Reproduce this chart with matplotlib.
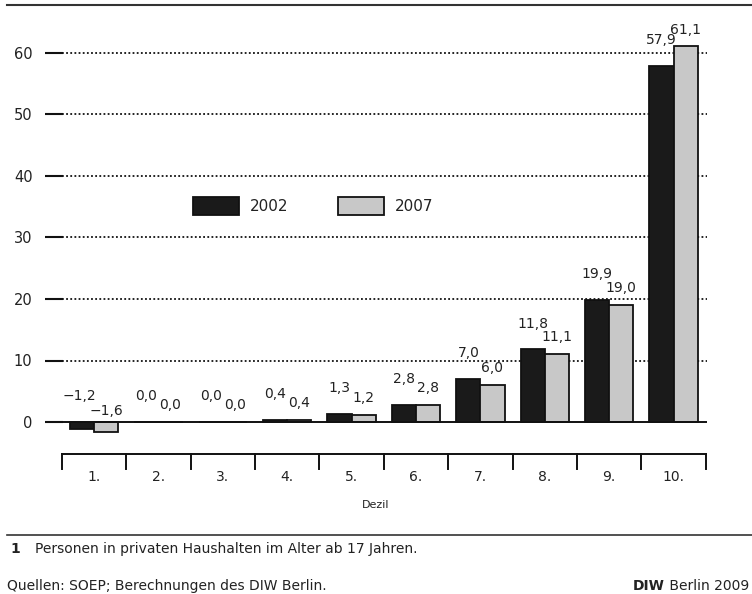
import matplotlib
matplotlib.use("Agg")
import matplotlib.pyplot as plt
from matplotlib.lines import Line2D
import numpy as np

plt.rcParams['font.family'] = ['DejaVu Sans']

categories = ["1.", "2.", "3.", "4.", "5.", "6.", "7.", "8.", "9.", "10."]
series_names = ["2002", "2007"]
values_2002 = [-1.2, 0.0, 0.0, 0.4, 1.3, 2.8, 7.0, 11.8, 19.9, 57.9]
values_2007 = [-1.6, 0.0, 0.0, 0.4, 1.2, 2.8, 6.0, 11.1, 19.0, 61.1]
yticks = [0, 10, 20, 30, 40, 50, 60]
x_label = "Dezil"
footnote_num = "1"
footnote = "Personen in privaten Haushalten im Alter ab 17 Jahren."
source = "Quellen: SOEP; Berechnungen des DIW Berlin."
credit_bold = "DIW"
credit_rest = " Berlin 2009"

W, H = 752, 594
fig = plt.figure(figsize=(W / 100, H / 100), dpi=100)

def fx(px):
    return px / W

def fy(py):
    return 1 - py / H

ax_left, ax_right, ax_top, ax_bot = 45, 707, 15, 480
ax = fig.add_axes([fx(ax_left), fy(ax_bot), (ax_right - ax_left) / W, (ax_bot - ax_top) / H])

px_per_unit = 369 / 60.0
zero_px = 422
ax.set_ylim(-(ax_bot - zero_px) / px_per_unit, (zero_px - ax_top) / px_per_unit)
cat_w = 64.4
c0 = 94
ax.set_xlim((ax_left - c0) / cat_w, (ax_right - c0) / cat_w)

for s in ax.spines.values():
    s.set_visible(False)

x = np.arange(len(categories))
bw = 0.375
text_col = "#222222"

# dotted grid
for yv in yticks[1:]:
    ax.hlines(yv, -0.5, ax.get_xlim()[1], colors="#111111", linestyles=(0, (1, 1.3)),
              linewidth=1.3, zorder=1)
ax.axhline(0, color="#111111", linewidth=1.4, zorder=3)

ax.bar(x - bw / 2, values_2002, bw, color="#1a1a1a", edgecolor="#111111", linewidth=1.3,
       label=series_names[0], zorder=2)
ax.bar(x + bw / 2, values_2007, bw, color="#c8c8c8", edgecolor="#111111", linewidth=1.3,
       label=series_names[1], zorder=2)

def fmt(v):
    s = f"{v:.1f}".replace(".", ",")
    return s.replace("-", "\u2212")

for i in range(len(categories)):
    v1, v2 = values_2002[i], values_2007[i]
    ax.annotate(fmt(v1), (x[i] - bw / 2, max(v1, 0)), xytext=(-2 if v1 < 0 else 0, 18.5),
                textcoords="offset points",
                ha="center", va="center", fontsize=10, color=text_col, zorder=5)
    ax.annotate(fmt(v2), (x[i] + bw / 2, max(v2, 0)), xytext=(0, 8 if v2 < 0 else 12),
                textcoords="offset points",
                ha="center", va="center", fontsize=10, color=text_col, zorder=5)

ax.set_yticks(yticks)
ax.set_yticklabels([str(t) for t in yticks], fontsize=10.5, color=text_col)
ax.tick_params(axis="y", direction="in", length=12.75, width=1.5, pad=9, color="#111111")
ax.set_xticks([])

# category axis below
ycat = -(454 - zero_px) / px_per_unit
ytick_end = -(469 - zero_px) / px_per_unit
ylab = -(477 - zero_px) / px_per_unit
ax.plot([-0.5, len(categories) - 0.5], [ycat, ycat], color="#111111", linewidth=1.4,
        clip_on=False, zorder=3)
for b in np.arange(len(categories) + 1) - 0.5:
    ax.plot([b, b], [ycat, ytick_end], color="#111111", linewidth=1.4, clip_on=False, zorder=3)
for i, c in enumerate(categories):
    ax.text(x[i], ylab, c, ha="center", va="center", fontsize=10, color=text_col)

fig.text(fx(376), fy(505), x_label, ha="center", va="center", fontsize=8, color=text_col)

leg = ax.legend(loc="center left", bbox_to_anchor=(fx(193), fy(206)), bbox_transform=fig.transFigure,
                ncol=2, frameon=False, fontsize=11, handlelength=3.0, handleheight=1.37,
                handletextpad=0.72, columnspacing=3.27, borderpad=0, borderaxespad=0)
for t in leg.get_texts():
    t.set_color(text_col)

# rules
fig.add_artist(Line2D([fx(7), 1], [fy(5), fy(5)], color="#333333", linewidth=1.5))
fig.add_artist(Line2D([fx(7), 1], [fy(535), fy(535)], color="#333333", linewidth=1.2))

fs = 10
fig.text(fx(10), fy(549), footnote_num, fontsize=fs, fontweight="bold", va="center", color=text_col)
fig.text(fx(35), fy(549), footnote, fontsize=fs, va="center", color=text_col)
fig.text(fx(7), fy(586), source, fontsize=fs, va="center", color=text_col)
t2 = fig.text(fx(749), fy(586), credit_rest, fontsize=fs, va="center", ha="right", color=text_col)
fig.canvas.draw()
bb = t2.get_window_extent()
fig.text(bb.x0 / W, fy(586), credit_bold, fontsize=fs, fontweight="bold", va="center", ha="right",
         color=text_col)

fig.savefig("out.png", dpi=100)
